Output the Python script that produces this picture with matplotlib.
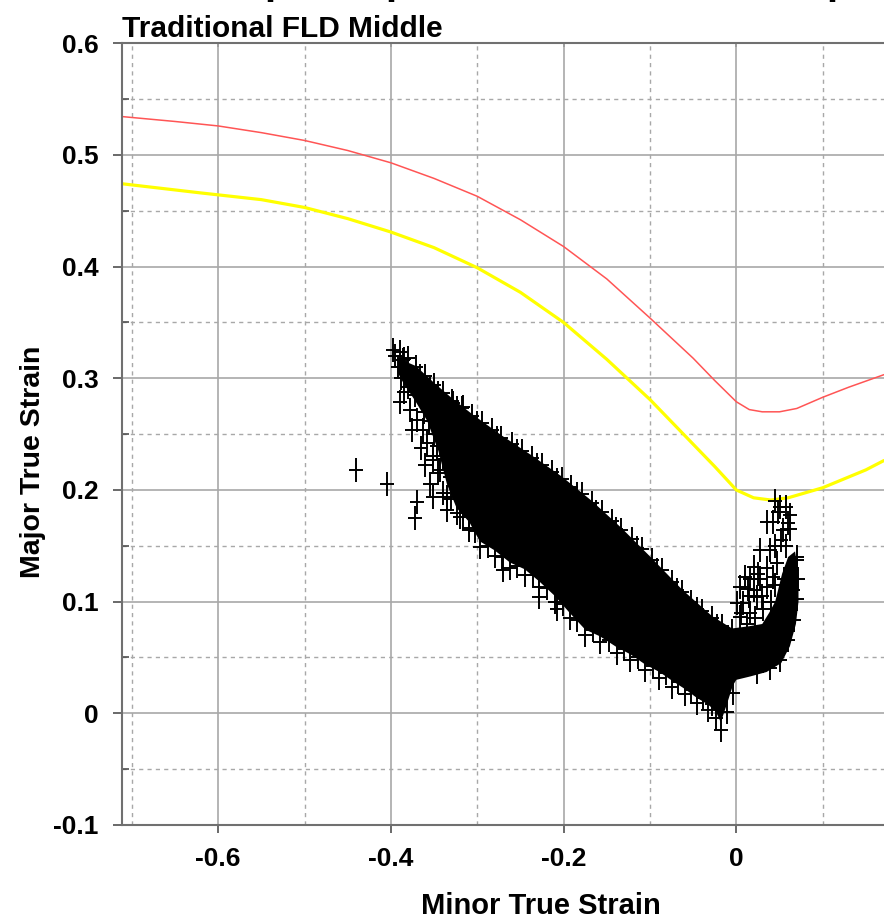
import matplotlib
matplotlib.use('Agg')
import matplotlib.pyplot as plt
from matplotlib.path import Path
from matplotlib.ticker import FixedLocator

plt.rcParams['font.family'] = ['Liberation Sans', 'DejaVu Sans']
plt.rcParams['font.weight'] = 'bold'

# forming limit curve (red) and safety curve (yellow)
fld_x = [-0.72, -0.65, -0.6, -0.55, -0.5, -0.45, -0.4, -0.35, -0.3, -0.25, -0.2, -0.15,
         -0.1, -0.05, -0.025, 0.0, 0.015, 0.03, 0.05, 0.07, 0.1, 0.13, 0.17, 0.22, 0.26]
fld_y = [0.535, 0.530, 0.526, 0.520, 0.513, 0.504, 0.493, 0.479, 0.463, 0.442, 0.418, 0.389,
         0.354, 0.318, 0.298, 0.279, 0.272, 0.270, 0.270, 0.273, 0.283, 0.292, 0.303, 0.315, 0.325]
safe_x = [-0.72, -0.62, -0.55, -0.5, -0.45, -0.4, -0.35, -0.3, -0.25, -0.2, -0.15, -0.1,
          -0.075, -0.05, -0.025, 0.0, 0.02, 0.04, 0.06, 0.1, 0.15, 0.17, 0.26]
safe_y = [0.475, 0.466, 0.460, 0.453, 0.443, 0.431, 0.417, 0.399, 0.377, 0.350, 0.317, 0.281,
          0.261, 0.241, 0.221, 0.200, 0.193, 0.191, 0.193, 0.202, 0.218, 0.226, 0.255]

# measured strain points (minor, major)
upper_x = [-0.398, -0.390, -0.380, -0.371, -0.361, -0.350, -0.340, -0.329, -0.318, -0.306,
           -0.295, -0.283, -0.272, -0.260, -0.248, -0.237, -0.225, -0.214, -0.202, -0.191,
           -0.179, -0.167, -0.156, -0.144, -0.133, -0.121, -0.109, -0.098, -0.086, -0.075,
           -0.063, -0.052, -0.040, -0.028, -0.017, -0.005,
           -0.385, -0.366, -0.345, -0.323, -0.300, -0.277, -0.254, -0.231, -0.208, -0.185,
           -0.162, -0.139, -0.115, -0.092, -0.069, -0.046, -0.022]
upper_y = [0.325, 0.324, 0.318, 0.310, 0.302, 0.294, 0.287, 0.280, 0.273, 0.266,
           0.260, 0.254, 0.247, 0.241, 0.235, 0.229, 0.222, 0.216, 0.210, 0.203,
           0.196, 0.188, 0.180, 0.172, 0.164, 0.156, 0.147, 0.137, 0.128, 0.118,
           0.109, 0.100, 0.092, 0.085, 0.078, 0.074,
           0.317, 0.302, 0.287, 0.273, 0.260, 0.247, 0.235, 0.222, 0.209, 0.196,
           0.180, 0.165, 0.148, 0.128, 0.110, 0.093, 0.078]
lower_x = [-0.351, -0.340, -0.324, -0.309, -0.297, -0.280, -0.262, -0.245, -0.228, -0.210,
           -0.193, -0.175, -0.158, -0.138, -0.123, -0.106, -0.089, -0.074, -0.060, -0.046,
           -0.033, -0.024, -0.018, -0.011, -0.004,
           -0.345, -0.330, -0.316, -0.303, -0.288, -0.271, -0.254, -0.236, -0.219, -0.201,
           -0.184, -0.166, -0.148, -0.130, -0.114, -0.097, -0.081, -0.067, -0.053, -0.039,
           -0.028]
lower_y = [0.227, 0.197, 0.179, 0.166, 0.149, 0.141, 0.130, 0.124, 0.113, 0.100,
           0.085, 0.070, 0.064, 0.054, 0.048, 0.039, 0.032, 0.024, 0.017, 0.009,
           0.003, -0.004, -0.015, 0.001, 0.018,
           0.215, 0.192, 0.176, 0.163, 0.150, 0.140, 0.132, 0.124, 0.112, 0.098,
           0.084, 0.075, 0.066, 0.058, 0.050, 0.042, 0.036, 0.028, 0.021, 0.014,
           0.008]
cluster_x = [-0.386, -0.392, -0.382, -0.390, -0.378, -0.375, -0.363, -0.370, -0.367, -0.355,
             -0.347, -0.358, -0.351, -0.347, -0.335, -0.328, -0.328, -0.317, -0.343, -0.332,
             -0.351, -0.335, -0.335, -0.320, -0.309, -0.343, -0.324, -0.309, -0.317,
             -0.395, -0.388, -0.380, -0.372, -0.385, -0.362, -0.356, -0.350, -0.340, -0.345,
             -0.336, -0.327, -0.320, -0.312, -0.322, -0.330, -0.365, -0.360, -0.355, -0.340]
cluster_y = [0.316, 0.310, 0.305, 0.279, 0.272, 0.254, 0.254, 0.263, 0.290, 0.290,
             0.278, 0.242, 0.230, 0.239, 0.254, 0.263, 0.278, 0.274, 0.218, 0.212,
             0.194, 0.194, 0.182, 0.176, 0.164, 0.269, 0.242, 0.230, 0.218,
             0.320, 0.300, 0.292, 0.285, 0.288, 0.270, 0.262, 0.250, 0.245, 0.262,
             0.232, 0.225, 0.245, 0.205, 0.200, 0.212, 0.238, 0.222, 0.205, 0.228]
arm_x = [0.050, 0.048, 0.054, 0.042, 0.062, 0.035, 0.062, 0.027, 0.039, 0.021,
         0.010, 0.016, 0.004, 0.027, 0.013, 0.001, 0.008, 0.024, 0.035, 0.031,
         0.004, 0.016, 0.065, 0.070, 0.047, 0.042,
         0.070, 0.071, 0.070, 0.067, 0.060, 0.050, 0.039, 0.024,
         0.020, 0.030, 0.040, 0.045, 0.055, 0.058, 0.052, 0.045, 0.035, 0.025,
         0.015, 0.005, 0.012, 0.022, 0.045, 0.058, 0.066, 0.060, 0.057, 0.045]
arm_y = [0.185, 0.180, 0.164, 0.171, 0.178, 0.171, 0.165, 0.146, 0.146, 0.131,
         0.122, 0.120, 0.113, 0.120, 0.111, 0.099, 0.099, 0.104, 0.113, 0.093,
         0.086, 0.090, 0.128, 0.140, 0.135, 0.122,
         0.137, 0.120, 0.102, 0.084, 0.066, 0.048, 0.041, 0.037,
         0.110, 0.105, 0.100, 0.115, 0.120, 0.150, 0.155, 0.150, 0.130, 0.125,
         0.105, 0.090, 0.080, 0.085, 0.085, 0.100, 0.110, 0.170, 0.185, 0.190]
outlier_x = [-0.440, -0.404, -0.370, -0.372, -0.270, -0.228, -0.208]
outlier_y = [0.218, 0.205, 0.189, 0.175, 0.128, 0.104, 0.093]

# outline of the densely packed part of the cloud
core_x = [-0.392, -0.371, -0.350, -0.329, -0.306, -0.272, -0.237, -0.202, -0.167, -0.133,
          -0.098, -0.063, -0.028, -0.005, 0.015, 0.030, 0.038, 0.045, 0.053, 0.060,
          0.068, 0.072, 0.072, 0.069, 0.062, 0.052, 0.035, 0.016, 0.000, -0.004,
          -0.011, -0.018, -0.024, -0.033, -0.046, -0.060, -0.074, -0.089, -0.106, -0.123,
          -0.138, -0.158, -0.175, -0.193, -0.210, -0.228, -0.245, -0.262, -0.280, -0.297,
          -0.309, -0.324, -0.335, -0.345, -0.358, -0.372, -0.385, -0.392]
core_y = [0.318, 0.311, 0.296, 0.282, 0.268, 0.249, 0.231, 0.212, 0.190, 0.166,
          0.139, 0.111, 0.087, 0.076, 0.078, 0.080, 0.090, 0.100, 0.125, 0.140,
          0.145, 0.125, 0.100, 0.080, 0.060, 0.045, 0.037, 0.033, 0.030, 0.025,
          0.008, -0.008, 0.002, 0.008, 0.014, 0.022, 0.029, 0.037, 0.044, 0.053,
          0.059, 0.069, 0.075, 0.090, 0.105, 0.118, 0.129, 0.135, 0.146, 0.154,
          0.171, 0.184, 0.205, 0.235, 0.262, 0.280, 0.295, 0.305]

x_ticks = [-0.6, -0.4, -0.2, 0.0]
x_tick_labels = ['-0.6', '-0.4', '-0.2', '0']
x_minor = [-0.7, -0.5, -0.3, -0.1, 0.1]
y_ticks = [-0.1, 0.0, 0.1, 0.2, 0.3, 0.4, 0.5, 0.6]
y_tick_labels = ['-0.1', '0', '0.1', '0.2', '0.3', '0.4', '0.5', '0.6']
y_minor = [-0.05, 0.05, 0.15, 0.25, 0.35, 0.45, 0.55]

fig = plt.figure(figsize=(8.84, 9.23), dpi=100)
ax = fig.add_axes([122.3 / 884, 1 - 825 / 923, (960 - 122.3) / 884, (825 - 43.3) / 923])
ax.set_xlim(-0.711, 0.259)
ax.set_ylim(-0.1, 0.6)

ax.xaxis.set_major_locator(FixedLocator(x_ticks))
ax.set_xticklabels(x_tick_labels)
ax.xaxis.set_minor_locator(FixedLocator(x_minor))
ax.yaxis.set_major_locator(FixedLocator(y_ticks))
ax.set_yticklabels(y_tick_labels)
ax.yaxis.set_minor_locator(FixedLocator(y_minor))

ax.set_axisbelow(True)
ax.grid(which='major', color='#a8a8a8', lw=1.2)
ax.grid(which='minor', color='#a8a8a8', lw=1.0, ls=(0, (3, 3)))

ax.plot(fld_x, fld_y, color='#ff5555', lw=1.1, zorder=2.5)
ax.plot(safe_x, safe_y, color='#ffff00', lw=2.3, zorder=2.5)

cross = Path([(-0.55, 0), (0.55, 0), (0, -1), (0, 1)],
             [Path.MOVETO, Path.LINETO, Path.MOVETO, Path.LINETO])
ax.fill(core_x, core_y, color='black', lw=0, zorder=3)
for xs, ys in [(upper_x, upper_y), (lower_x, lower_y), (cluster_x, cluster_y),
               (arm_x, arm_y), (outlier_x, outlier_y)]:
    ax.plot(xs, ys, ls='none', marker=cross, ms=17.5, mew=1.4, color='black', zorder=4)

for s in ax.spines.values():
    s.set_color('#707070')
    s.set_linewidth(1.5)

ax.tick_params(axis='x', which='major', direction='out', length=6, width=1.2,
               color='#505050', labelsize=19, pad=10)
ax.tick_params(axis='x', which='minor', length=0)
ax.tick_params(axis='y', which='major', direction='out', length=6.5, width=1.2,
               color='#505050', labelsize=19, pad=10.5)
ax.tick_params(axis='y', which='minor', direction='in', length=5, width=1.2, color='#505050')

secax = ax.secondary_xaxis('top')
secax.set_xticks(x_ticks)
secax.tick_params(axis='x', direction='in', length=3, width=1.2, color='#505050',
                  labeltop=False, labelbottom=False)
secax.spines['top'].set_visible(False)

ax.set_title('Traditional FLD Middle', loc='left', fontsize=21.5, fontweight='bold', pad=4)
ax.set_xlabel('Minor True Strain', fontsize=21, fontweight='bold', va='center')
ax.xaxis.set_label_coords(0.5, (825 - 906) / 781.7)
ax.set_ylabel('Major True Strain', fontsize=20.5, fontweight='bold', va='center', ha='center')
ax.yaxis.set_label_coords((33 - 122.3) / 837.7, (825 - 462) / 781.7)

# clipped descenders of a larger heading above the plot
for px in [270, 391, 832]:
    fig.text((px - 6) / 884, 1 + 6 / 923, 'p', fontsize=29, fontweight='bold',
             ha='left', va='baseline')

fig.savefig('out.png', dpi=100)
